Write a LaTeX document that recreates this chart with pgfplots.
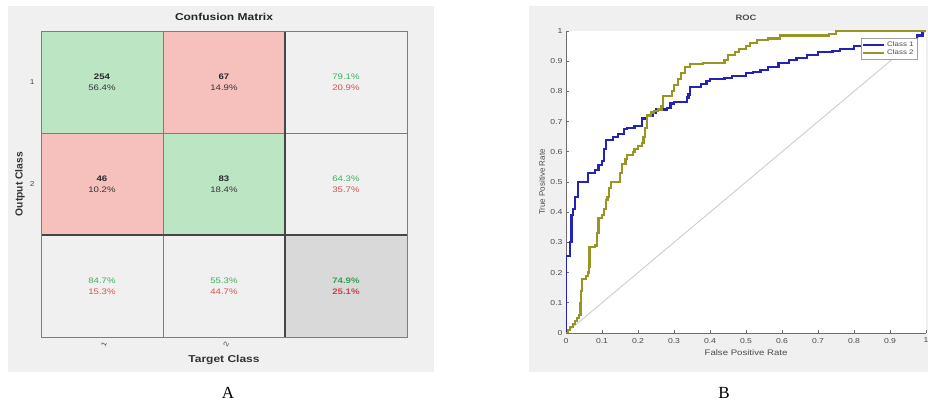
\documentclass[border=0pt]{standalone}
\usepackage{fontspec}
\setmainfont{Liberation Sans}[FakeStretch=1.2]
\newfontfamily\plainsans{Liberation Sans}
\newfontfamily\serifcap{Liberation Serif}
\usepackage{pgfplots}
\pgfplotsset{compat=1.18}
\usepackage{pgfplotstable}

\definecolor{panelbg}{RGB}{240,240,240}
\definecolor{cmline}{RGB}{125,125,125}
\definecolor{cmthick}{RGB}{70,70,70}
\definecolor{txtgreen}{RGB}{60,175,90}
\definecolor{txtred}{RGB}{215,80,80}
\definecolor{ticktext}{RGB}{75,75,75}
\definecolor{axisgray}{RGB}{110,110,110}
\definecolor{rocblue}{RGB}{35,35,185}
\definecolor{rocolive}{RGB}{150,150,35}
\definecolor{diaggray}{RGB}{205,205,205}
\definecolor{legendgray}{RGB}{160,160,160}

% confusion matrix: cell colour index (0 green, 1 red, 2 light, 3 total)
\pgfplotstableread{
x y c
1 1 0
2 1 1
3 1 2
1 2 1
2 2 0
3 2 2
1 3 2
2 3 2
3 3 3
}\cells
\pgfplotstableread{
x y n p
1 1 254 56.4
2 1 67 14.9
1 2 46 10.2
2 2 83 18.4
}\counts
\pgfplotstableread{
x y good bad
3 1 79.1 20.9
3 2 64.3 35.7
1 3 84.7 15.3
2 3 55.3 44.7
}\rates
\pgfplotstableread{
x y good bad
3 3 74.9 25.1
}\overall

% ROC curves
\pgfplotstableread{
fpr tpr
0 0
0 0.255
0.01 0.30
0.015 0.39
0.02 0.41
0.025 0.45
0.033 0.50
0.06 0.53
0.08 0.54
0.09 0.555
0.10 0.57
0.105 0.61
0.11 0.64
0.13 0.65
0.145 0.66
0.16 0.675
0.17 0.68
0.19 0.685
0.21 0.71
0.225 0.72
0.24 0.73
0.25 0.74
0.28 0.745
0.29 0.76
0.30 0.765
0.335 0.78
0.34 0.79
0.345 0.815
0.375 0.825
0.39 0.835
0.40 0.84
0.44 0.845
0.46 0.85
0.50 0.86
0.52 0.865
0.54 0.87
0.56 0.88
0.59 0.895
0.62 0.905
0.64 0.91
0.67 0.92
0.70 0.93
0.74 0.935
0.76 0.94
0.80 0.95
0.90 0.96
0.97 0.97
0.975 0.985
0.99 1.0
1.0 1.0
}\rocone
\pgfplotstableread{
fpr tpr
0 0
0.005 0.01
0.01 0.02
0.02 0.03
0.025 0.04
0.03 0.05
0.035 0.06
0.04 0.10
0.042 0.14
0.045 0.18
0.055 0.19
0.06 0.20
0.063 0.22
0.065 0.285
0.08 0.29
0.085 0.33
0.09 0.38
0.10 0.39
0.105 0.41
0.11 0.44
0.115 0.45
0.12 0.48
0.125 0.50
0.15 0.53
0.155 0.56
0.165 0.575
0.17 0.59
0.185 0.60
0.19 0.61
0.20 0.62
0.21 0.63
0.215 0.65
0.22 0.68
0.225 0.72
0.235 0.73
0.245 0.735
0.255 0.74
0.265 0.75
0.27 0.785
0.295 0.80
0.30 0.82
0.31 0.84
0.32 0.86
0.33 0.88
0.345 0.89
0.38 0.895
0.44 0.905
0.45 0.92
0.47 0.93
0.48 0.94
0.50 0.95
0.51 0.96
0.53 0.97
0.56 0.975
0.595 0.985
0.73 0.99
0.75 1.0
1.0 1.0
}\roctwo

\begin{document}
\begin{tikzpicture}
\path[use as bounding box] (0,0) rectangle (928pt,401pt);
\fill[panelbg] (8pt,29pt) rectangle (434pt,395pt);
\fill[panelbg] (529pt,29pt) rectangle (928pt,395pt);

% ---------------- A: confusion matrix
\begin{axis}[
    at={(41pt,64pt)}, anchor=south west,
    scale only axis, width=366pt, height=306pt,
    xmin=0.5, xmax=3.5, ymin=0.5, ymax=3.5,
    y dir=reverse, enlargelimits=false,
    xtick={1,2}, ytick={1,2},
    major tick length=0pt,
    /pgf/number format/assume math mode=true,
    tick label style={font=\fontsize{7}{8}\selectfont, text=ticktext},
    xticklabel style={rotate=65, anchor=east, yshift=-5pt},
    yticklabel style={xshift=-3pt},
    axis line style={draw=cmline, line width=0.8pt},
    title={Confusion Matrix},
    title style={at={(0.5,1)}, anchor=center, yshift=8pt,
        font=\bfseries\fontsize{10}{12}\selectfont, text=black!85},
    xlabel={Target Class},
    every axis x label/.style={at={([yshift=-23pt]axis description cs:0.5,0)},
        anchor=center, font=\bfseries\fontsize{10}{12}\selectfont, text=black!80},
    ylabel={Output Class},
    every axis y label/.style={at={([xshift=-21pt]axis description cs:0,0.5)},
        rotate=90, anchor=center, font=\plainsans\bfseries\fontsize{10.3}{12}\selectfont, text=black!80},
    colormap={cmcells}{rgb255=(188,229,196) rgb255=(246,193,189) rgb255=(240,240,240) rgb255=(217,217,217)},
    colormap access=direct,
    axis on top,
    no markers,
]
\addplot[matrix plot*, mesh/cols=3, point meta=explicit] table[x=x, y=y, meta=c] {\cells};
\addplot[cmline, line width=0.8pt] coordinates {(1.5,0.5) (1.5,3.5)};
\addplot[cmline, line width=0.8pt] coordinates {(0.5,1.5) (3.5,1.5)};
\addplot[cmthick, line width=1.8pt] coordinates {(2.5,0.5) (2.5,3.5)};
\addplot[cmthick, line width=1.8pt] coordinates {(0.5,2.5) (3.5,2.5)};
% counts and shares
\addplot[only marks, mark=none, point meta=explicit,
    nodes near coords={\textbf{\pgfmathprintnumber{\pgfplotspointmeta}}},
    nodes near coords align=center,
    nodes near coords style={yshift=5.4pt, font=\fontsize{8}{9}\selectfont, text=black!85}]
    table[x=x, y=y, meta=n] {\counts};
\addplot[only marks, mark=none, point meta=explicit,
    nodes near coords={\pgfmathprintnumber[fixed, fixed zerofill, precision=1]{\pgfplotspointmeta}\%},
    nodes near coords align=center,
    nodes near coords style={yshift=-5.4pt, font=\fontsize{8}{9}\selectfont, text=black!80}]
    table[x=x, y=y, meta=p] {\counts};
% rates in the margins
\addplot[only marks, mark=none, point meta=explicit,
    nodes near coords={\pgfmathprintnumber[fixed, fixed zerofill, precision=1]{\pgfplotspointmeta}\%},
    nodes near coords align=center,
    nodes near coords style={yshift=5.4pt, font=\fontsize{8}{9}\selectfont, text=txtgreen}]
    table[x=x, y=y, meta=good] {\rates};
\addplot[only marks, mark=none, point meta=explicit,
    nodes near coords={\pgfmathprintnumber[fixed, fixed zerofill, precision=1]{\pgfplotspointmeta}\%},
    nodes near coords align=center,
    nodes near coords style={yshift=-5.4pt, font=\fontsize{8}{9}\selectfont, text=txtred}]
    table[x=x, y=y, meta=bad] {\rates};
\addplot[only marks, mark=none, point meta=explicit,
    nodes near coords={\textbf{\pgfmathprintnumber[fixed, fixed zerofill, precision=1]{\pgfplotspointmeta}\%}},
    nodes near coords align=center,
    nodes near coords style={yshift=5.4pt, font=\fontsize{8}{9}\selectfont, text=txtgreen!90!black}]
    table[x=x, y=y, meta=good] {\overall};
\addplot[only marks, mark=none, point meta=explicit,
    nodes near coords={\textbf{\pgfmathprintnumber[fixed, fixed zerofill, precision=1]{\pgfplotspointmeta}\%}},
    nodes near coords align=center,
    nodes near coords style={yshift=-5.4pt, font=\fontsize{8}{9}\selectfont, text=txtred!90!black}]
    table[x=x, y=y, meta=bad] {\overall};
\end{axis}

% ---------------- B: ROC
\begin{axis}[
    at={(566pt,68pt)}, anchor=south west,
    scale only axis, width=360pt, height=302pt,
    xmin=0, xmax=1, ymin=0, ymax=1,
    xtick={0,0.1,0.2,0.3,0.4,0.5,0.6,0.7,0.8,0.9,1},
    ytick={0,0.1,0.2,0.3,0.4,0.5,0.6,0.7,0.8,0.9,1},
    axis x line*=bottom, axis y line*=left,
    axis background/.style={fill=white},
    tick align=inside, major tick length=3pt,
    tick style={axisgray, line width=0.6pt},
    axis line style={axisgray, line width=0.8pt},
    /pgf/number format/assume math mode=true,
    tick label style={font=\fontsize{7.2}{8}\selectfont, text=ticktext},
    xticklabel style={yshift=-1.5pt},
    title={ROC},
    title style={at={(0.5,1)}, anchor=center, yshift=7pt,
        font=\bfseries\fontsize{7.8}{9}\selectfont, text=ticktext},
    xlabel={False Positive Rate},
    every axis x label/.style={at={([yshift=-20pt]axis description cs:0.5,0)},
        anchor=center, font=\fontsize{8}{9}\selectfont, text=ticktext},
    ylabel={True Positive Rate},
    every axis y label/.style={at={([xshift=-24pt]axis description cs:0,0.5)},
        rotate=90, anchor=center, font=\plainsans\fontsize{8}{9}\selectfont, text=ticktext},
    legend style={at={(1,1)}, anchor=north east, xshift=-9pt, yshift=-7pt,
        font=\fontsize{6.6}{7}\selectfont, text=ticktext,
        draw=legendgray, fill=white, inner sep=1.2pt, row sep=-1.5pt,
        cells={anchor=west}},
    legend image code/.code={\draw[#1, line width=2pt] (0pt,0pt) -- (21pt,0pt);},
    no markers,
]
\addplot[diaggray, line width=0.9pt, forget plot] coordinates {(0,0) (1,1)};
\addplot[rocblue, line width=2.2pt, const plot] table[x=fpr, y=tpr] {\rocone};
\addlegendentry{Class 1}
\addplot[rocolive, line width=2.2pt, const plot] table[x=fpr, y=tpr] {\roctwo};
\addlegendentry{Class 2}
\end{axis}

\node[font=\serifcap\fontsize{17}{17}\selectfont] at (228pt,8pt) {A};
\node[font=\serifcap\fontsize{17}{17}\selectfont] at (724pt,8pt) {B};
\end{tikzpicture}
\end{document}
